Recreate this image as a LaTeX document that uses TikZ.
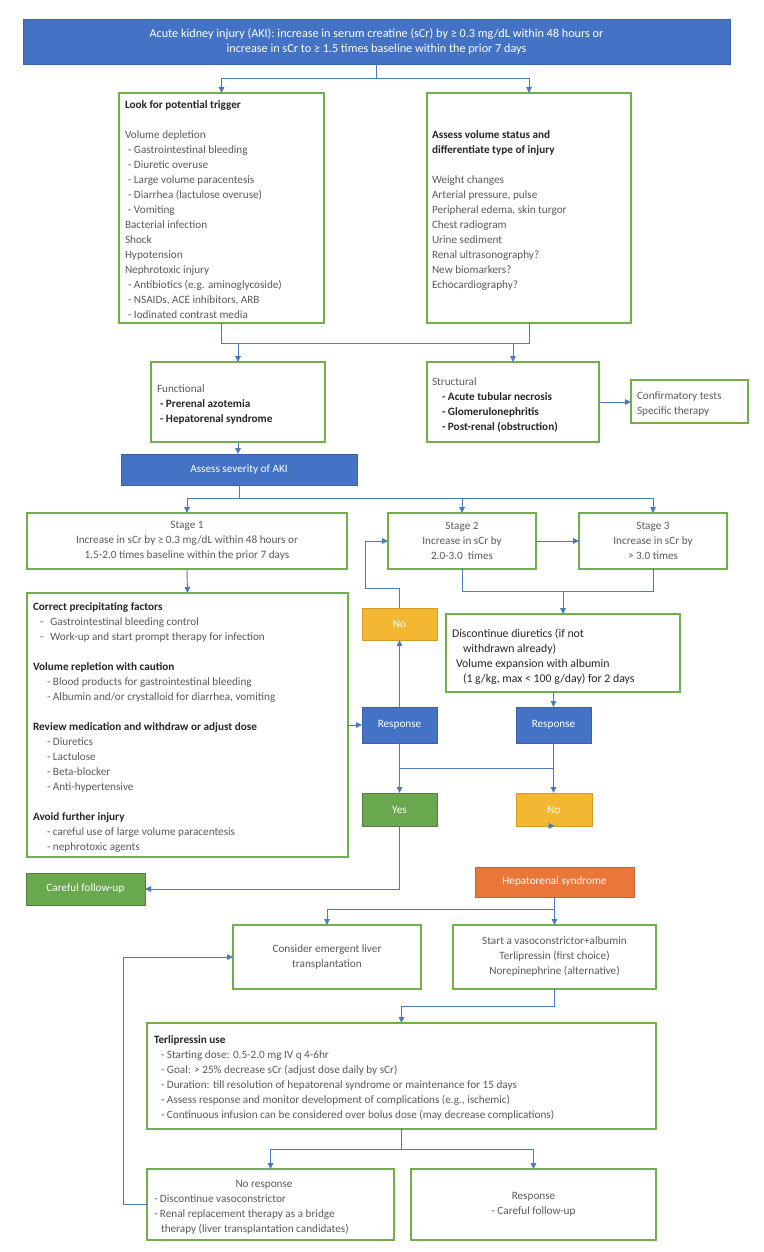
\documentclass[tikz,border=0pt]{standalone}
\usepackage{fontspec}
\setmainfont{Carlito}
\usetikzlibrary{arrows.meta}
\definecolor{fblue}{HTML}{4472C4}
\definecolor{gline}{HTML}{72AF4A}
\definecolor{cline}{HTML}{4A78C2}
\definecolor{fyel}{HTML}{F4B731}
\definecolor{fora}{HTML}{E9773A}
\definecolor{fgrn}{HTML}{6AA84F}
\definecolor{txt}{HTML}{5A5A5A}
\definecolor{hdr}{HTML}{262626}
\newcommand\bx[7]{\node[#6, minimum width={(#4-#2)*1pt}, minimum height={(#5-#3)*1pt}] (#1) at ({(#2+#4)/2},{(#3+#5)/2}) {#7};}
\newcommand\hd[1]{\textcolor{hdr}{\textbf{#1}}}
\tikzset{
  fnt/.style={font=\fontsize{11.2}{15}\selectfont},
  gbox/.style={draw=gline, line width=1.3pt, fill=white, inner sep=0pt, outer sep=0pt, text=txt, align=center, fnt},
  fbox/.style={draw=fblue!85!black, line width=0.6pt, fill=fblue, text=white, inner sep=0pt, outer sep=0pt, align=center, fnt},
  ybox/.style={fbox, draw=fyel!85!black, fill=fyel},
  obox/.style={fbox, draw=fora!85!black, fill=fora},
  grbox/.style={fbox, draw=fgrn!75!black, fill=fgrn},
  txtl/.style={anchor=north west, inner sep=0pt, outer sep=0pt, align=left, text=txt, fnt, execute at begin node=\strut},
  txtc/.style={anchor=base, inner sep=0pt, outer sep=0pt, align=center, text=txt, fnt},
  conn/.style={draw=cline, line width=0.9pt},
  arr/.style={conn, -{Triangle[length=6pt,width=5.5pt]}}
}
\begin{document}
\begin{tikzpicture}[x=1pt,y=-1pt]
\useasboundingbox (0,0) rectangle (763,1252);
\fill[white] (0,0) rectangle (763,1252);
% ---------- boxes ----------
\bx{top}{23}{19}{730}{64}{fbox, font=\fontsize{12.2}{15}\selectfont}{Acute kidney injury (AKI): increase in serum creatine (sCr) by ≥ 0.3 mg/dL within 48 hours or\\increase in sCr to ≥ 1.5 times baseline within the prior 7 days}
\bx{trig}{119}{93}{324}{323}{gbox}{}
\bx{vol}{427}{93}{631}{323}{gbox}{}
\bx{func}{151}{362}{325}{442}{gbox}{}
\bx{struct}{427}{362}{599}{442}{gbox}{}
\bx{conf}{631}{380}{748}{423}{gbox}{}
\bx{sev}{121}{454}{357}{485}{fbox}{Assess severity of AKI}
\bx{st1}{27}{513}{347}{569}{gbox}{Stage 1\\Increase in sCr by ≥ 0.3 mg/dL within 48 hours or\\1.5-2.0 times baseline within the prior 7 days}
\bx{st2}{388}{513}{536}{569}{gbox}{Stage 2\\Increase in sCr by\\2.0-3.0~ times}
\bx{st3}{579}{513}{727}{569}{gbox}{Stage 3\\Increase in sCr by\\> 3.0 times}
\bx{big}{27}{593}{348}{857}{gbox}{}
\bx{noA}{362}{608}{437}{640}{ybox}{No}
\bx{disc}{446}{614}{680}{692}{gbox}{}
\bx{respA}{362}{707}{437}{743}{fbox}{Response}
\bx{respB}{516}{707}{591}{743}{fbox}{Response}
\bx{yes}{362}{793}{437}{826}{grbox}{Yes}
\bx{noB}{516}{793}{592}{826}{ybox}{No}
\bx{hrs}{475}{867}{634}{897}{obox}{Hepatorenal syndrome}
\bx{fu}{26}{873}{145}{905}{grbox}{Careful follow-up}
\bx{cons}{233}{925}{421}{989}{gbox}{Consider emergent liver\\transplantation}
\bx{start}{453}{925}{656}{989}{gbox}{Start a vasoconstrictor+albumin\\Terlipressin (first choice)\\Norepinephrine (alternative)}
\bx{terl}{147}{1023}{656}{1129}{gbox}{}
\bx{nores}{147}{1169}{394}{1240}{gbox}{}
\bx{resC}{411}{1169}{656}{1240}{gbox}{Response\\- Careful follow-up}
% ---------- texts ----------
\node[txtl] (ttrig) at (125,100.5) {\hd{Look for potential trigger}\\[15pt]
Volume depletion\\
\hspace{3pt}- Gastrointestinal bleeding\\
\hspace{3pt}- Diuretic overuse\\
\hspace{3pt}- Large volume paracentesis\\
\hspace{3pt}- Diarrhea (lactulose overuse)\\
\hspace{3pt}- Vomiting\\
Bacterial infection\\
Shock\\
Hypotension\\
Nephrotoxic injury\\
\hspace{3pt}- Antibiotics (e.g. aminoglycoside)\\
\hspace{3pt}- NSAIDs, ACE inhibitors, ARB\\
\hspace{3pt}- Iodinated contrast media};
\node[txtl] (tvol) at (432,130.5) {\hd{Assess volume status and}\\
\hd{differentiate type of injury}\\[15pt]
Weight changes\\
Arterial pressure, pulse\\
Peripheral edema, skin turgor\\
Chest radiogram\\
Urine sediment\\
Renal ultrasonography?\\
New biomarkers?\\
Echocardiography?};
\node[txtl] (tfunc) at (157,384.5) {Functional\\
\hspace{3pt}\hd{- Prerenal azotemia}\\
\hspace{3pt}\hd{- Hepatorenal syndrome}};
\node[txtl] (tstruct) at (432,377.5) {Structural\\
\hspace{10pt}\hd{- Acute tubular necrosis}\\
\hspace{10pt}\hd{- Glomerulonephritis}\\
\hspace{10pt}\hd{- Post-renal (obstruction)}};
\node[txtl] (tconf) at (637,391.5) {Confirmatory tests\\Specific therapy};
\node[txtl] (tbig) at (33,602.5) {\hd{Correct precipitating factors}\\
\hspace{7pt}-\hspace{7pt}Gastrointestinal bleeding control\\
\hspace{7pt}-\hspace{7pt}Work-up and start prompt therapy for infection\\[15pt]
\hd{Volume repletion with caution}\\
\hspace{14pt}- Blood products for gastrointestinal bleeding\\
\hspace{14pt}- Albumin and/or crystalloid for diarrhea, vomiting\\[15pt]
\hd{Review medication and withdraw or adjust dose}\\
\hspace{14pt}- Diuretics\\
\hspace{14pt}- Lactulose\\
\hspace{14pt}- Beta-blocker\\
\hspace{14pt}- Anti-hypertensive\\[15pt]
\hd{Avoid further injury}\\
\hspace{14pt}- careful use of large volume paracentesis\\
\hspace{14pt}- nephrotoxic agents};
\node[txtl, text=hdr, font=\fontsize{11.8}{15}\selectfont] (tdisc) at (452,628.5) {Discontinue diuretics (if not\\
\hspace{11pt}withdrawn already)\\
\hspace{4pt}Volume expansion with albumin\\
\hspace{11pt}(1 g/kg, max < 100 g/day) for 2 days};
\node[txtl] (tterl) at (154,1035.5) {\hd{Terlipressin use}\\
\hspace{7pt}- Starting dose: 0.5-2.0 mg IV q 4-6hr\\
\hspace{7pt}- Goal: > 25\% decrease sCr (adjust dose daily by sCr)\\
\hspace{7pt}- Duration: till resolution of hepatorenal syndrome or maintenance for 15 days\\
\hspace{7pt}- Assess response and monitor development of complications (e.g., ischemic)\\
\hspace{7pt}- Continuous infusion can be considered over bolus dose (may decrease complications)};
\node[txtc] (tnores) at (264,1187.5) {No response};
\node[txtl] (tnores2) at (154,1194.5) {- Discontinue vasoconstrictor\\
- Renal replacement therapy as a bridge\\
\hspace{7pt}therapy (liver transplantation candidates)};
% ---------- connectors ----------
\coordinate (j1) at (0,78);
\coordinate (j2) at (0,343);
\coordinate (j3) at (0,498);
\coordinate (j4) at (0,591);
\coordinate (j5) at (0,768);
\coordinate (j6) at (0,909);
\coordinate (j7) at (0,1006);
\coordinate (j8) at (0,1149);
\coordinate (kA) at (365,588);
\coordinate (kB) at (123,0);
\draw[arr] (top.south) -- (top.south|-j1) -| (trig.north);
\draw[arr] (top.south|-j1) -| (vol.north);
\draw[conn] (trig.south) -- (trig.south|-j2) -- (vol.south|-j2) -- (vol.south);
\draw[arr] (func.north|-j2) -- (func.north);
\draw[arr] (struct.north|-j2) -- (struct.north);
\draw[arr] (struct.east) -- (conf.west|-struct.east);
\draw[arr] (func.south) -- (func.south|-sev.north);
\draw[arr] (sev.south) -- (sev.south|-j3) -| (st1.north);
\draw[arr] (sev.south|-j3) -| (st3.north);
\draw[arr] (st2.north|-j3) -- (st2.north);
\draw[arr] (st2.east) -- (st3.west);
\draw[arr] (noA.north) |- (kA) |- (st2.west);
\draw[conn] (st2.south) |- (st3.south|-j4) -- (st3.south);
\draw[arr] (disc.north|-j4) -- (disc.north);
\draw[arr] (st1.south) -- (big.north);
\draw[arr] (big.east|-respA.west) -- (respA.west);
\draw[arr] (respA.north) -- (noA.south);
\draw[arr] (respB.north|-disc.south) -- (respB.north);
\draw[arr] (respA.south) -- (yes.north);
\draw[arr] (respB.south) -- (respB.south|-noB.north);
\draw[conn] (respA.south|-j5) -- (respB.south|-j5);
\draw[arr] (noB.south) -- (noB.south-|hrs.north);
\draw[arr] (yes.south) |- (fu.east);
\draw[arr] (hrs.south) -- (hrs.south|-start.north);
\draw[arr] (hrs.south|-j6) -| (cons.north);
\draw[arr] (start.south) -- (start.south|-j7) -| (terl.north);
\draw[conn] (terl.south) -- (terl.south|-j8);
\draw[arr] (terl.south|-j8) -| (nores.north);
\draw[arr] (terl.south|-j8) -| (resC.north);
\draw[arr] (nores.west) -| (kB|-cons.west) -- (cons.west);
\end{tikzpicture}
\end{document}
